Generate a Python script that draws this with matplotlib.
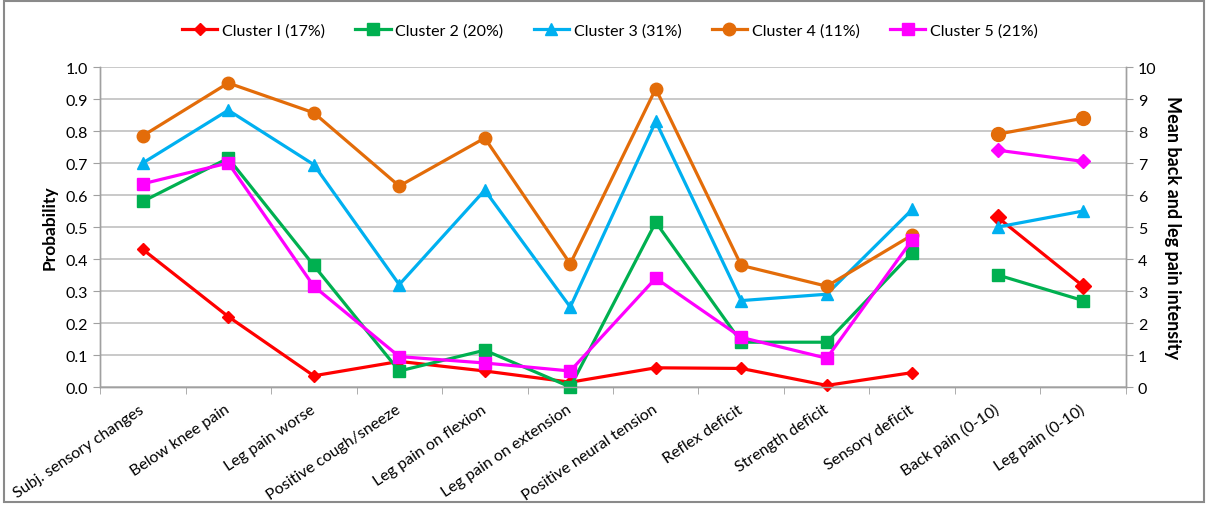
import matplotlib
matplotlib.use("Agg")
import matplotlib.pyplot as plt
from matplotlib.patches import Rectangle

plt.rcParams['font.family'] = ['Lato', 'DejaVu Sans']

categories = ["Subj. sensory changes", "Below knee pain", "Leg pain worse",
              "Positive cough/sneeze", "Leg pain on flexion", "Leg pain on extension",
              "Positive neural tension", "Reflex deficit", "Strength deficit",
              "Sensory deficit", "Back pain (0-10)", "Leg pain (0-10)"]

series_names = ["Cluster I (17%)", "Cluster 2 (20%)", "Cluster 3 (31%)",
                "Cluster 4 (11%)", "Cluster 5 (21%)"]

# Probabilities (first 10 categories)
c1_prob = [0.43, 0.22, 0.035, 0.08, 0.05, 0.015, 0.06, 0.058, 0.005, 0.045]
c2_prob = [0.58, 0.715, 0.38, 0.05, 0.115, 0.0, 0.515, 0.14, 0.14, 0.42]
c3_prob = [0.70, 0.865, 0.695, 0.32, 0.615, 0.25, 0.83, 0.27, 0.29, 0.555]
c4_prob = [0.785, 0.95, 0.857, 0.628, 0.778, 0.385, 0.932, 0.38, 0.315, 0.475]
c5_prob = [0.635, 0.70, 0.315, 0.095, 0.075, 0.05, 0.34, 0.155, 0.09, 0.46]

# Mean pain intensity (last 2 categories)
c1_pain = [5.3, 3.15]
c2_pain = [3.5, 2.7]
c3_pain = [5.0, 5.5]
c4_pain = [7.9, 8.4]
c5_pain = [7.4, 7.05]

colors = ["#FF0000", "#00B050", "#00B0F0", "#E36C09", "#FF00FF"]
markers = ["D", "s", "^", "o", "s"]
pain_markers = ["D", "s", "^", "o", "D"]
msizes = [6, 8, 9, 9, 9]
pain_msizes = [8, 9, 9, 10, 7]

probs = [c1_prob, c2_prob, c3_prob, c4_prob, c5_prob]
pains = [c1_pain, c2_pain, c3_pain, c4_pain, c5_pain]

fig = plt.figure(figsize=(12.08, 5.06), dpi=100)
fig.patches.append(Rectangle((0.003, 0.006), 0.994, 0.99, transform=fig.transFigure,
                             fill=False, edgecolor="#8a8a8a", linewidth=1.5))
ax = fig.add_axes([0.0828, 0.2332, 0.8493, 0.6324])
ax2 = ax.twinx()

x_prob = list(range(len(c1_prob)))
x_pain = [len(c1_prob), len(c1_prob) + 1]

handles = []
for i in range(5):
    h, = ax.plot(x_prob, probs[i], color=colors[i], marker=markers[i], markersize=msizes[i],
                 linewidth=2.3, label=series_names[i], zorder=3, clip_on=False)
    handles.append(h)
    ax2.plot(x_pain, pains[i], color=colors[i], marker=pain_markers[i],
             markersize=pain_msizes[i], linewidth=2.3, zorder=3, clip_on=False)

ax.set_xlim(-0.5, len(categories) - 0.5)
ax.set_ylim(0, 1.0)
ax2.set_ylim(0, 10)
ax.set_yticks([i / 10 for i in range(11)])
ax.set_yticklabels([f"{i/10:.1f}" for i in range(11)], fontsize=11.5)
ax2.set_yticks(range(11))
ax2.set_yticklabels([str(i) for i in range(11)], fontsize=11.5)

ax.set_xticks(range(len(categories)))
ax.set_xticklabels(categories, rotation=34, ha="right", va="center",
                   rotation_mode="anchor", fontsize=11.5)
ax.tick_params(axis="x", length=0, pad=15)
ax.set_xticks([i + 0.5 for i in range(-1, len(categories))], minor=True)
ax.tick_params(axis="x", which="minor", length=5, color="#a0a0a0")
ax.tick_params(axis="y", length=5, color="#a0a0a0")
ax2.tick_params(axis="y", length=5, color="#a0a0a0")

ax.grid(axis="y", color="#c0c0c0", linewidth=1.2, zorder=0)
ax.set_axisbelow(True)
for a in (ax, ax2):
    a.spines["top"].set_visible(False)
    for s in ("left", "right", "bottom"):
        a.spines[s].set_color("#a0a0a0")
        a.spines[s].set_linewidth(1.0)

ax.set_ylabel("Probability", fontsize=12.5, fontweight="bold", labelpad=6)
ax2.set_ylabel("Mean back and leg pain intensity", fontsize=13, fontweight="bold",
               rotation=270, labelpad=18)

fig.legend(handles=handles, loc="center", bbox_to_anchor=(0.505, 0.937), ncol=5,
           frameon=False, fontsize=11.5, handlelength=2.2, columnspacing=1.9,
           handletextpad=0.3)

fig.savefig("out.png", dpi=100)
